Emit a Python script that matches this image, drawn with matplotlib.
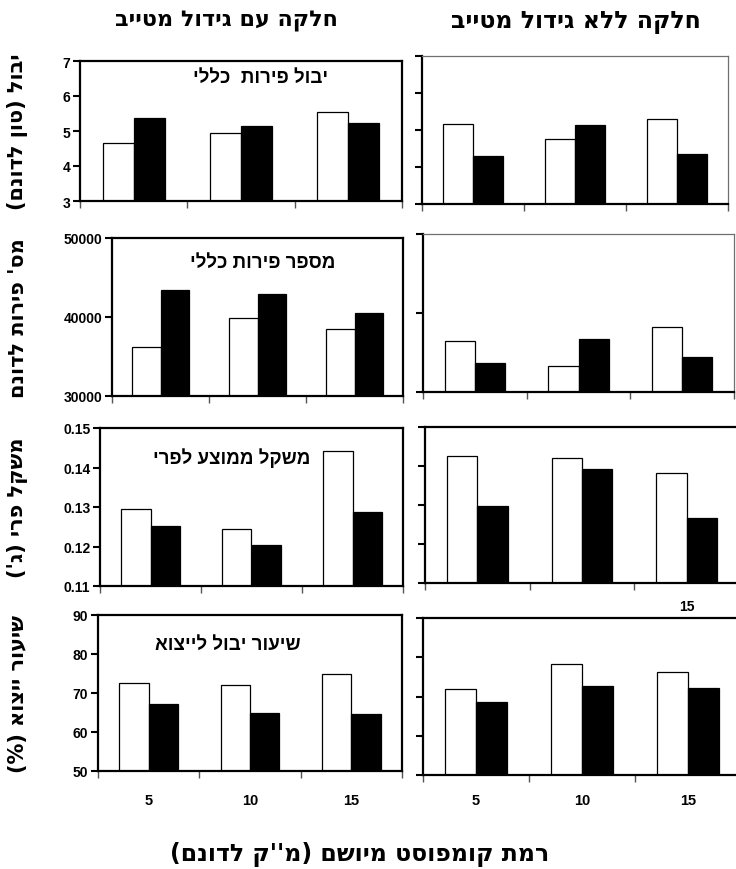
import numpy as np
import matplotlib
matplotlib.use("Agg")
import matplotlib.pyplot as plt

W, H = 736, 870

levels = ["5", "10", "15"]

# white = first treatment, black = second treatment
yield_with_w = [4.67, 4.93, 5.54]
yield_with_b = [5.36, 5.13, 5.22]
yield_without_w = [5.15, 4.75, 5.29]
yield_without_b = [4.30, 5.14, 4.34]

count_with_w = [36150, 39870, 38420]
count_with_b = [43380, 42960, 40510]
count_without_w = [36460, 33250, 38170]
count_without_b = [33680, 36770, 34410]

weight_with_w = [0.1296, 0.1245, 0.1441]
weight_with_b = [0.1253, 0.1203, 0.1288]
weight_without_w = [0.1425, 0.1421, 0.1383]
weight_without_b = [0.1297, 0.1393, 0.1266]

export_with_w = [72.6, 72.0, 74.9]
export_with_b = [67.2, 65.0, 64.6]
export_without_w = [71.9, 78.3, 76.3]
export_without_b = [68.7, 72.6, 72.2]

col_titles = ["חלקה עם גידול מטייב", "חלקה ללא גידול מטייב"]
row_ylabels = ["יבול (טון לדונם)", "מס' פירות לדונם", "משקל פרי (ג')", "שיעור ייצוא (%)"]
panel_names = ["יבול פירות  כללי", "מספר פירות כללי", "משקל ממוצע לפרי", "שיעור יבול לייצוא"]
xlabel = "רמת קומפוסט מיושם (מ''ק לדונם)"

ylims = [(3, 7), (30000, 50000), (0.11, 0.15), (50, 90)]
yticks = [[3, 4, 5, 6, 7], [30000, 40000, 50000],
          [0.11, 0.12, 0.13, 0.14, 0.15], [50, 60, 70, 80, 90]]
ytick_fmt = ["{:.0f}", "{:.0f}", "{:.2f}", "{:.0f}"]

data = [
    ((yield_with_w, yield_with_b), (yield_without_w, yield_without_b)),
    ((count_with_w, count_with_b), (count_without_w, count_without_b)),
    ((weight_with_w, weight_with_b), (weight_without_w, weight_without_b)),
    ((export_with_w, export_with_b), (export_without_w, export_without_b)),
]

# pixel boxes: left, top, right, bottom
boxes = [
    ((80, 62, 402, 202), (422, 57, 728, 205)),
    ((112, 239, 403, 397), (423, 235, 734, 393)),
    ((100, 429, 403, 587), (425, 428, 739, 584)),
    ((98, 616, 402, 772), (423, 619, 741, 776)),
]
label_pos = [(261, 78), (263, 263), (232, 458), (228, 645)]
right_thin_top = [True, True, False, False]

HEB_HEAD = ["DejaVu Sans"]
HEB_BODY = ["Liberation Sans", "DejaVu Sans"]


def heb(s):
    # matplotlib has no bidi support: lay the string out in visual order
    r = s[::-1]
    return r.translate(str.maketrans("()", ")("))


def px_axes(fig, box):
    l, t, r, b = box
    return fig.add_axes([l / W, 1 - b / H, (r - l) / W, (b - t) / H])


fig = plt.figure(figsize=(W / 100, H / 100), dpi=100)
fig.patch.set_facecolor("white")

x = np.arange(3)
bw = 0.29

for i in range(4):
    for j in range(2):
        ax = px_axes(fig, boxes[i][j])
        white, black = data[i][j]
        ax.bar(x - bw / 2, white, bw, color="white",
               edgecolor="black", linewidth=0.9, zorder=2)
        ax.bar(x + bw / 2, black, bw, color="black",
               edgecolor="black", linewidth=0.9, zorder=2)
        ax.set_xlim(-0.5, 2.5)
        ax.set_ylim(*ylims[i])
        ax.set_yticks(yticks[i])
        if j == 0:
            ax.set_yticklabels([ytick_fmt[i].format(v) for v in yticks[i]],
                               fontsize=10, fontweight="bold",
                               family="Liberation Sans")
        else:
            ax.set_yticklabels([])
        ax.tick_params(axis="y", direction="out", length=5, width=1.5, pad=2)

        ax.set_xticks([-0.5, 0.5, 1.5, 2.5])
        ax.set_xticklabels([])
        ax.tick_params(axis="x", which="major", direction="out",
                       length=5, width=1.0, color="#555555")
        ax.set_xticks(x, minor=True)
        if i == 3:
            ax.set_xticklabels(levels, minor=True, fontsize=10.5,
                               fontweight="bold", family="Liberation Sans")
        ax.tick_params(axis="x", which="minor", length=0,
                       pad=16 if j == 0 else 13)

        for side in ["left", "bottom"]:
            ax.spines[side].set_linewidth(1.6)
            ax.spines[side].set_color("black")
        if j == 0:
            for side in ["top", "right"]:
                ax.spines[side].set_linewidth(1.6)
                ax.spines[side].set_color("black")
        else:
            if right_thin_top[i]:
                ax.spines["top"].set_linewidth(0.9)
                ax.spines["top"].set_color("#707070")
            else:
                ax.spines["top"].set_linewidth(1.6)
                ax.spines["top"].set_color("black")
            ax.spines["right"].set_linewidth(0.9)
            ax.spines["right"].set_color("#707070")

    # panel caption inside the left chart
    lx, ly = label_pos[i]
    fig.text(lx / W, 1 - ly / H, heb(panel_names[i]), ha="center",
             va="center", fontsize=13.5, fontweight="bold", family=HEB_BODY)

    # row axis title
    l, t, r, b = boxes[i][0]
    fig.text(18 / W, 1 - (t + b) / 2 / H, heb(row_ylabels[i]), rotation=90,
             ha="center", va="center", fontsize=15, fontweight="bold",
             family=HEB_HEAD)

fig.text(226 / W, 1 - 22 / H, heb(col_titles[0]), ha="center", va="center",
         fontsize=16, fontweight="bold", family=HEB_HEAD)
fig.text(576 / W, 1 - 22 / H, heb(col_titles[1]), ha="center", va="center",
         fontsize=17, fontweight="bold", family=HEB_HEAD)

fig.text(687 / W, 1 - 607 / H, "15", ha="center", va="center",
         fontsize=10, fontweight="bold", family="Liberation Sans")

fig.text(360 / W, 1 - 855 / H, heb(xlabel), ha="center", va="center",
         fontsize=17, fontweight="bold", family=HEB_HEAD)

fig.savefig("out.png", dpi=100)
